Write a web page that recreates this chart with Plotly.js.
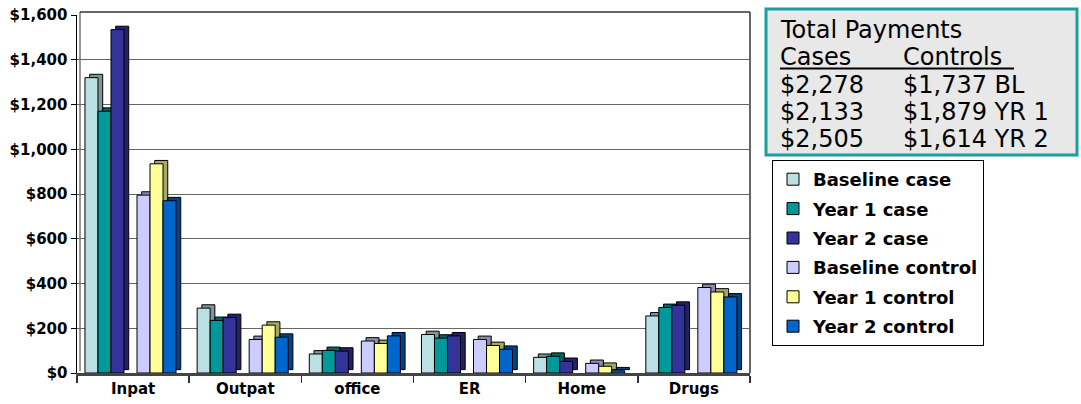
<!DOCTYPE html>
<html>
<head>
<meta charset="utf-8">
<script src="https://cdn.plot.ly/plotly-3.0.1.min.js"></script>
<style>
html,body{margin:0;padding:0;background:#fff;}
#chart{width:1081px;height:404px;}
</style>
</head>
<body>
<div id="chart"></div>
<script>
// ---- data ----
const categories = ['Inpat', 'Outpat', 'office', 'ER', 'Home', 'Drugs'];
const seriesNames = ['Baseline case', 'Year 1 case', 'Year 2 case', 'Baseline control', 'Year 1 control', 'Year 2 control'];
const baselineCase    = [1320, 290,  85, 172, 70, 255];
const year1Case       = [1170, 235, 101, 156, 75, 293];
const year2Case       = [1535, 248,  98, 166, 52, 303];
const baselineControl = [ 795, 150, 143, 150, 43, 382];
const year1Control    = [ 935, 214, 132, 123, 30, 362];
const year2Control    = [ 770, 160, 166, 106, 10, 340];
const yTickValues = [0, 200, 400, 600, 800, 1000, 1200, 1400, 1600];

const summaryTitle = 'Total Payments';
const summaryHeaders = ['Cases', 'Controls'];
const caseTotals = ['$2,278', '$2,133', '$2,505'];
const controlTotals = ['$1,737 BL', '$1,879 YR 1', '$1,614 YR 2'];

// ---- styles ----
const seriesValues = [baselineCase, year1Case, year2Case, baselineControl, year1Control, year2Control];
const frontColors = ['#BBE0E3', '#009999', '#333399', '#CCCCFF', '#FFFF99', '#0066CC'];
const sideColors  = ['#7E9698', '#006666', '#222266', '#8A8AB0', '#A8A866', '#004488'];
const offsets = [-0.429, -0.313, -0.197, 0.035, 0.151, 0.267];
const barWidth = 0.116;
const depthX = 0.042;   // ~5px sideways
const depthY = 15;      // ~3.5px upward in value units

// plot area in pixels
const PL = 77, PR = 750, PT = 15, PB = 373;
const px = v => (v - PL) / (PR - PL);
const py = v => (PB - v) / (PB - PT);

const traces = [];
// depth (side/top faces) first
seriesValues.forEach((vals, i) => {
  traces.push({
    type: 'bar', x: categories, y: vals, base: depthY,
    offset: offsets[i] + depthX, width: barWidth,
    marker: {color: sideColors[i], line: {color: '#000', width: 1}},
    legendgroup: 'g' + i, showlegend: false, hoverinfo: 'skip'
  });
});
// front faces
seriesValues.forEach((vals, i) => {
  traces.push({
    type: 'bar', x: categories, y: vals, name: seriesNames[i],
    offset: offsets[i], width: barWidth,
    marker: {color: frontColors[i], line: {color: '#000', width: 1}},
    legendgroup: 'g' + i
  });
});

const boxFont = {family: 'DejaVu Sans', size: 24, color: '#000'};
const annotations = [];
annotations.push({xref: 'paper', yref: 'paper', x: px(778), y: py(30), xanchor: 'left', yanchor: 'middle',
  text: summaryTitle, showarrow: false, font: boxFont});
annotations.push({xref: 'paper', yref: 'paper', x: px(778), y: py(57), xanchor: 'left', yanchor: 'middle',
  text: summaryHeaders[0], showarrow: false, font: boxFont});
annotations.push({xref: 'paper', yref: 'paper', x: px(901), y: py(57), xanchor: 'left', yanchor: 'middle',
  text: summaryHeaders[1], showarrow: false, font: boxFont});
caseTotals.forEach((t, i) => {
  annotations.push({xref: 'paper', yref: 'paper', x: px(778), y: py(85 + i * 27), xanchor: 'left', yanchor: 'middle',
    text: t, showarrow: false, font: boxFont});
  annotations.push({xref: 'paper', yref: 'paper', x: px(901), y: py(85 + i * 27), xanchor: 'left', yanchor: 'middle',
    text: controlTotals[i], showarrow: false, font: boxFont});
});

const shapes = [
  // summary box
  {type: 'rect', xref: 'paper', yref: 'paper', x0: px(766), x1: px(1077), y0: py(155), y1: py(9),
   line: {color: '#1A9F9F', width: 3}, fillcolor: '#E8E8E8', layer: 'below'},
  // underline under headers
  {type: 'line', xref: 'paper', yref: 'paper', x0: px(780), x1: px(1014), y0: py(68.5), y1: py(68.5),
   line: {color: '#000', width: 2}},
  // plot frame (back wall)
  {type: 'line', xref: 'paper', yref: 'paper', x0: px(80), x1: px(750), y0: py(12), y1: py(12),
   line: {color: '#333', width: 1.5}, layer: 'below'},
  {type: 'line', xref: 'paper', yref: 'paper', x0: px(750), x1: px(750), y0: py(12), y1: py(373),
   line: {color: '#333', width: 1.5}, layer: 'below'},
  {type: 'line', xref: 'paper', yref: 'paper', x0: px(80), x1: px(80), y0: py(12), y1: py(371),
   line: {color: '#333', width: 1}, layer: 'below'}
];

const layout = {
  width: 1081, height: 404,
  margin: {l: PL, r: 1081 - PR, t: PT, b: 404 - PB, pad: 0},
  paper_bgcolor: '#fff', plot_bgcolor: '#fff',
  barmode: 'overlay',
  showlegend: true,
  font: {family: 'DejaVu Sans', color: '#000'},
  xaxis: {
    type: 'category', categoryorder: 'array', categoryarray: categories,
    tickson: 'boundaries', ticks: 'outside', ticklen: 7, tickcolor: '#333', tickwidth: 1.5,
    showline: true, linecolor: '#444', linewidth: 3, showgrid: false,
    tickfont: {family: 'DejaVu Sans', size: 15, weight: 'bold', color: '#000'},
    fixedrange: true
  },
  yaxis: {
    range: [0, 1600], tickvals: yTickValues, tickformat: '$,.0f',
    ticks: 'outside', ticklen: 5, tickcolor: '#000',
    showline: true, linecolor: '#000', linewidth: 1.5,
    showgrid: true, gridcolor: '#666', gridwidth: 1, zeroline: false,
    tickfont: {family: 'DejaVu Sans', size: 15, weight: 'bold', color: '#000'},
    fixedrange: true
  },
  legend: {
    x: px(772), y: py(160), xanchor: 'left', yanchor: 'top',
    bgcolor: '#fff', bordercolor: '#000', borderwidth: 1,
    font: {family: 'DejaVu Sans', size: 18, weight: 'bold', color: '#000'},
    traceorder: 'grouped', tracegroupgap: 3, itemclick: false, itemdoubleclick: false
  },
  annotations: annotations,
  shapes: shapes
};

Plotly.newPlot('chart', traces, layout, {displayModeBar: false, staticPlot: true});
</script>
</body>
</html>
